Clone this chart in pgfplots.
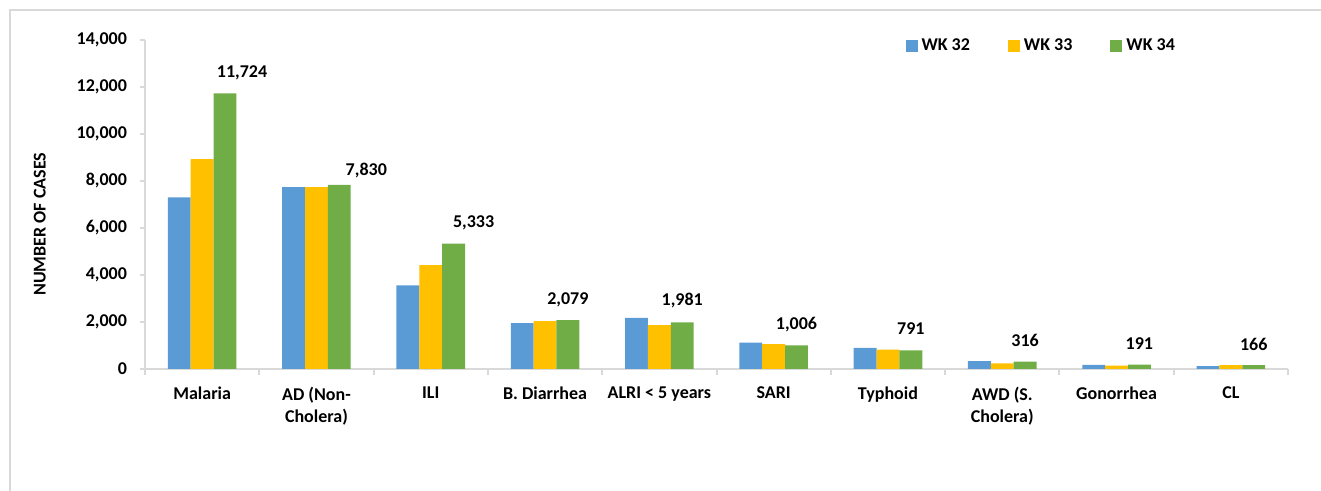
\documentclass[border=0pt]{standalone}
\usepackage{pgfplots}
\pgfplotsset{compat=1.18}
\usepackage{pgfplotstable}
\usepackage{fontspec}
\setmainfont{Carlito}
\definecolor{c1}{HTML}{5B9BD5}
\definecolor{c2}{HTML}{FFC000}
\definecolor{c3}{HTML}{70AD47}
\definecolor{gridc}{HTML}{D9D9D9}
\newcommand\lf{\fontsize{9}{10.8}\selectfont\bfseries}
\pgfplotstableread{
x w32 w33 w34 dx dy
0 7300 8930 11724 8.5 10.5
1 7740 7740 7830 13.5 7
2 3560 4420 5333 10 10.3
3 1950 2040 2079 0 10
4 2180 1870 1981 0 10.8
5 1120 1060 1006 0 10.5
6 900 820 791 0 10.7
7 340 240 316 0 10.7
8 170 140 191 0 10.4
9 120 160 166 0 10.5
}\datatable
\pgfplotsset{sq/.style={legend image code/.code={\fill[##1] (0pt,-3pt) rectangle (6pt,3pt);}}}
\begin{document}
\begin{tikzpicture}
\useasboundingbox (0,0) rectangle (660.5pt,245.5pt);
\draw[gridc, line width=1pt] (5pt,0pt) -- (5pt,240.5pt) -- (660.5pt,240.5pt);
\begin{axis}[
  at={(72.5pt,61pt)}, anchor=south west,
  scale only axis, width=571.5pt, height=164.5pt,
  xmin=-0.5, xmax=9.5, ymin=0, ymax=14000,
  axis lines*=left,
  axis line style={gridc, line width=1pt},
  ytick={0,2000,...,14000}, scaled y ticks=false,
  /pgf/number format/1000 sep={,},
  /pgf/number format/assume math mode=true,
  y tick style={gridc, line width=1pt},
  tick align=outside, major tick length=2.5pt,
  xtick={0,...,9},
  xticklabels={Malaria, AD (Non-\\Cholera), ILI, B. Diarrhea, ALRI < 5 years, SARI, Typhoid, AWD (S.\\Cholera), Gonorrhea, CL},
  x tick style={draw=none},
  extra x ticks={-0.5,0.5,...,9.5},
  extra x tick labels={},
  extra x tick style={x tick style={draw=gridc, line width=1pt}, major tick length=3pt},
  tick label style={font=\lf, text=black},
  xticklabel style={align=center, yshift=-3pt},
  yticklabel style={xshift=-3pt},
  ylabel={NUMBER OF CASES},
  ylabel style={at={(axis description cs:-0.092,0.44)}, anchor=center, font=\lf},
  legend style={at={(axis description cs:0.665,0.982)}, anchor=west, draw=none, fill=none,
    inner sep=0pt, font=\lf, legend columns=3,
    /tikz/every even column/.append style={column sep=17pt}},
  ybar, bar width=0.2,
]
\addplot[fill=c1, draw=none, bar shift=-0.2, sq] table[x=x, y=w32] {\datatable};
\addlegendentry{WK 32}
\addplot[fill=c2, draw=none, bar shift=0, sq] table[x=x, y=w33] {\datatable};
\addlegendentry{WK 33}
\addplot[fill=c3, draw=none, bar shift=0.2, sq,
  nodes near coords,
  visualization depends on={\thisrow{dx} \as \dx},
  visualization depends on={\thisrow{dy} \as \dy},
  every node near coord/.append style={anchor=center, xshift=\dx pt, yshift=\dy pt, font=\lf, text=black},
] table[x=x, y=w34] {\datatable};
\addlegendentry{WK 34}
\end{axis}
\end{tikzpicture}
\end{document}
